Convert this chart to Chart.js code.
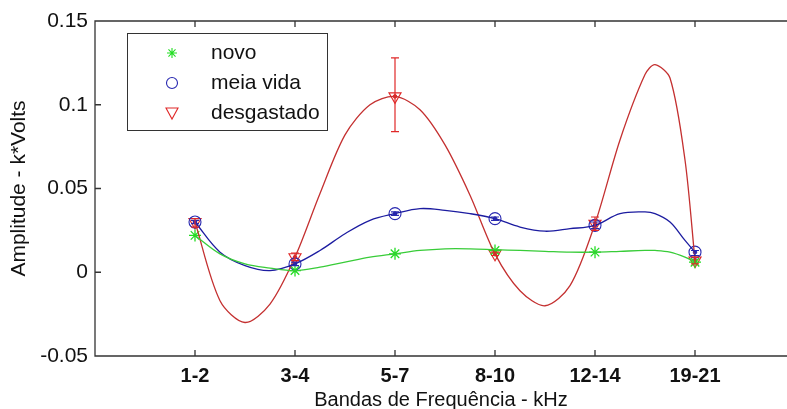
<!DOCTYPE html>
<html lang="pt">
<head>
  <title>Amplitude por banda de frequência</title>
  <script type="text/javascript" src="https://cdn.jsdelivr.net/npm/chart.js"></script>
  <style>
    html, body { margin: 0; padding: 0; overflow: hidden; background: #fff; }
  </style>
</head>
<body>
<canvas id="chart" width="787" height="409"></canvas>

<script>
  // frequency bands (x axis)
  const bands = ['1-2', '3-4', '5-7', '8-10', '12-14', '19-21'];

  // measured values at each band
  const novo       = [0.022, 0.001, 0.011, 0.013, 0.012, 0.006];
  const meiaVida   = [0.030, 0.005, 0.035, 0.032, 0.028, 0.012];
  const desgastado = [0.030, 0.009, 0.105, 0.011, 0.029, 0.007];

  // error bars (low / high)
  const desgLow  = [0.027, 0.007, 0.084, 0.010, 0.025, 0.005];
  const desgHigh = [0.032, 0.0115, 0.128, 0.012, 0.033, 0.009];
  const meiaLow  = [0.029, 0.004, 0.034, 0.031, 0.026, 0.010];
  const meiaHigh = [0.031, 0.006, 0.036, 0.033, 0.030, 0.013];

  // fitted curves
  const curveX   = [1, 1.25, 1.5, 1.75, 2, 2.25, 2.5, 2.75, 3, 3.25, 3.5, 3.75, 4, 4.25, 4.5, 4.75, 5, 5.25, 5.5, 5.6, 5.75, 5.9, 6];
  const novoFit  = [0.022, 0.011, 0.005, 0.0025, 0.001, 0.003, 0.006, 0.009, 0.011, 0.013, 0.014, 0.014, 0.0135, 0.013, 0.0125, 0.012, 0.012, 0.0125, 0.013, 0.013, 0.012, 0.009, 0.006];
  const meiaFit  = [0.030, 0.012, 0.004, 0.001, 0.005, 0.013, 0.023, 0.031, 0.035, 0.038, 0.037, 0.035, 0.032, 0.027, 0.0245, 0.026, 0.028, 0.035, 0.036, 0.035, 0.030, 0.019, 0.012];
  const desgFit  = [0.030, -0.017, -0.030, -0.019, 0.009, 0.047, 0.082, 0.100, 0.105, 0.097, 0.076, 0.046, 0.011, -0.011, -0.020, -0.008, 0.029, 0.079, 0.118, 0.124, 0.116, 0.067, 0.007];

  const yTicks = [-0.05, 0, 0.05, 0.1, 0.15];

  const GREEN = '#22dd22', BLUE = '#2828b0', RED = '#e02828';
  const FONT = 'Arial, "Liberation Sans", sans-serif';
  const pts = arr => arr.map((v, i) => ({ x: i + 1, y: v }));
  const fit = arr => arr.map((v, i) => ({ x: curveX[i], y: v }));

  // frame with inward ticks, like the original plot
  const framePlugin = {
    id: 'frame',
    afterDraw(chart) {
      const { ctx, chartArea: a, scales: { x, y } } = chart;
      ctx.save();
      ctx.strokeStyle = '#333';
      ctx.lineWidth = 1.3;
      ctx.beginPath();
      ctx.moveTo(a.right, a.top); ctx.lineTo(a.left, a.top);
      ctx.lineTo(a.left, a.bottom); ctx.lineTo(a.right, a.bottom);
      bands.forEach((b, i) => {
        const px = x.getPixelForValue(i + 1);
        ctx.moveTo(px, a.bottom); ctx.lineTo(px, a.bottom - 6);
        ctx.moveTo(px, a.top); ctx.lineTo(px, a.top + 6);
      });
      yTicks.forEach(v => {
        const py = y.getPixelForValue(v);
        ctx.moveTo(a.left, py); ctx.lineTo(a.left + 6, py);
      });
      ctx.stroke();
      ctx.restore();
    }
  };

  function errorBars(chart, low, high, color) {
    const { ctx, scales: { x, y } } = chart;
    ctx.strokeStyle = color;
    ctx.lineWidth = 1.2;
    ctx.beginPath();
    low.forEach((lo, i) => {
      const px = x.getPixelForValue(i + 1);
      const p1 = y.getPixelForValue(lo), p2 = y.getPixelForValue(high[i]);
      ctx.moveTo(px, p1); ctx.lineTo(px, p2);
      ctx.moveTo(px - 4, p1); ctx.lineTo(px + 4, p1);
      ctx.moveTo(px - 4, p2); ctx.lineTo(px + 4, p2);
    });
    ctx.stroke();
  }

  const errorPlugin = {
    id: 'errors',
    afterDatasetsDraw(chart) {
      chart.ctx.save();
      errorBars(chart, meiaLow, meiaHigh, BLUE);
      errorBars(chart, desgLow, desgHigh, RED);
      chart.ctx.restore();
    }
  };

  function marker(ctx, kind, cx, cy) {
    ctx.beginPath();
    if (kind === 'star') {
      ctx.strokeStyle = GREEN;
      for (let k = 0; k < 4; k++) {
        const t = k * Math.PI / 4;
        ctx.moveTo(cx - 5 * Math.cos(t), cy - 5 * Math.sin(t));
        ctx.lineTo(cx + 5 * Math.cos(t), cy + 5 * Math.sin(t));
      }
    } else if (kind === 'circle') {
      ctx.strokeStyle = BLUE;
      ctx.arc(cx, cy, 5.5, 0, Math.PI * 2);
    } else {
      ctx.strokeStyle = RED;
      ctx.moveTo(cx - 6, cy - 5); ctx.lineTo(cx + 6, cy - 5); ctx.lineTo(cx, cy + 6); ctx.closePath();
    }
    ctx.stroke();
  }

  const legendPlugin = {
    id: 'boxLegend',
    afterDraw(chart) {
      const ctx = chart.ctx;
      const items = [['star', 'novo'], ['circle', 'meia vida'], ['tri', 'desgastado']];
      ctx.save();
      ctx.fillStyle = '#fff';
      ctx.fillRect(127, 33, 200, 97);
      ctx.strokeStyle = '#333';
      ctx.lineWidth = 1;
      ctx.strokeRect(127.5, 33.5, 200, 97);
      ctx.lineWidth = 1.1;
      ctx.font = '21px ' + FONT;
      ctx.textBaseline = 'middle';
      items.forEach(([k, t], i) => {
        const cy = 53 + i * 30;
        marker(ctx, k, 172, cy);
        ctx.fillStyle = '#111';
        ctx.fillText(t, 211, cy);
      });
      ctx.restore();
    }
  };

  new Chart(document.getElementById('chart'), {
    type: 'scatter',
    data: {
      datasets: [
        { data: fit(novoFit), showLine: true, borderColor: '#38cc38', borderWidth: 1.3, pointRadius: 0, tension: 0.35 },
        { data: fit(meiaFit), showLine: true, borderColor: '#1c1ca0', borderWidth: 1.3, pointRadius: 0, tension: 0.35 },
        { data: fit(desgFit), showLine: true, borderColor: '#c43030', borderWidth: 1.3, pointRadius: 0, tension: 0.3 },
        { data: pts(novo), pointStyle: 'star', pointRadius: 6, borderColor: GREEN, borderWidth: 1.3 },
        { data: pts(meiaVida), pointStyle: 'circle', pointRadius: 6, borderColor: BLUE, backgroundColor: 'transparent', borderWidth: 1.1 },
        { data: pts(desgastado), pointStyle: 'triangle', rotation: 180, pointRadius: 7, borderColor: RED, backgroundColor: 'transparent', borderWidth: 1.1 },
        { data: pts(meiaVida), pointStyle: 'circle', pointRadius: 1.8, borderColor: BLUE, backgroundColor: BLUE },
        { data: pts(desgastado), pointStyle: 'circle', pointRadius: 1.8, borderColor: RED, backgroundColor: RED },
      ],
    },
    options: {
      responsive: false,
      animation: false,
      layout: { autoPadding: false, padding: { top: 21, left: 0, right: 0, bottom: 0 } },
      plugins: { legend: { display: false }, tooltip: { enabled: false } },
      scales: {
        x: {
          type: 'linear',
          min: 0,
          max: 6.92,
          grid: { display: false, drawTicks: false },
          border: { display: false },
          afterBuildTicks: s => { s.ticks = bands.map((b, i) => ({ value: i + 1 })); },
          afterFit: s => { s.height = 53; },
          ticks: {
            autoSkip: false,
            maxRotation: 0,
            padding: 8,
            color: '#111',
            font: { family: FONT, size: 20, weight: 'bold' },
            callback: v => bands[v - 1],
          },
          title: {
            display: true,
            text: 'Bandas de Frequência - kHz',
            color: '#111',
            padding: { top: 0, bottom: -3 },
            font: { family: FONT, size: 20 },
          },
        },
        y: {
          min: -0.05,
          max: 0.15,
          grid: { display: false, drawTicks: false },
          border: { display: false },
          afterBuildTicks: s => { s.ticks = yTicks.map(v => ({ value: v })); },
          afterFit: s => { s.width = 95; },
          ticks: {
            padding: 7,
            color: '#111',
            font: { family: FONT, size: 21 },
            callback: v => String(Number(v.toFixed(2))),
          },
          title: {
            display: true,
            text: 'Amplitude - k*Volts',
            color: '#111',
            padding: { top: 7, bottom: 0 },
            font: { family: FONT, size: 21 },
          },
        },
      },
    },
    plugins: [framePlugin, errorPlugin, legendPlugin],
  });
</script>
</body>
</html>
